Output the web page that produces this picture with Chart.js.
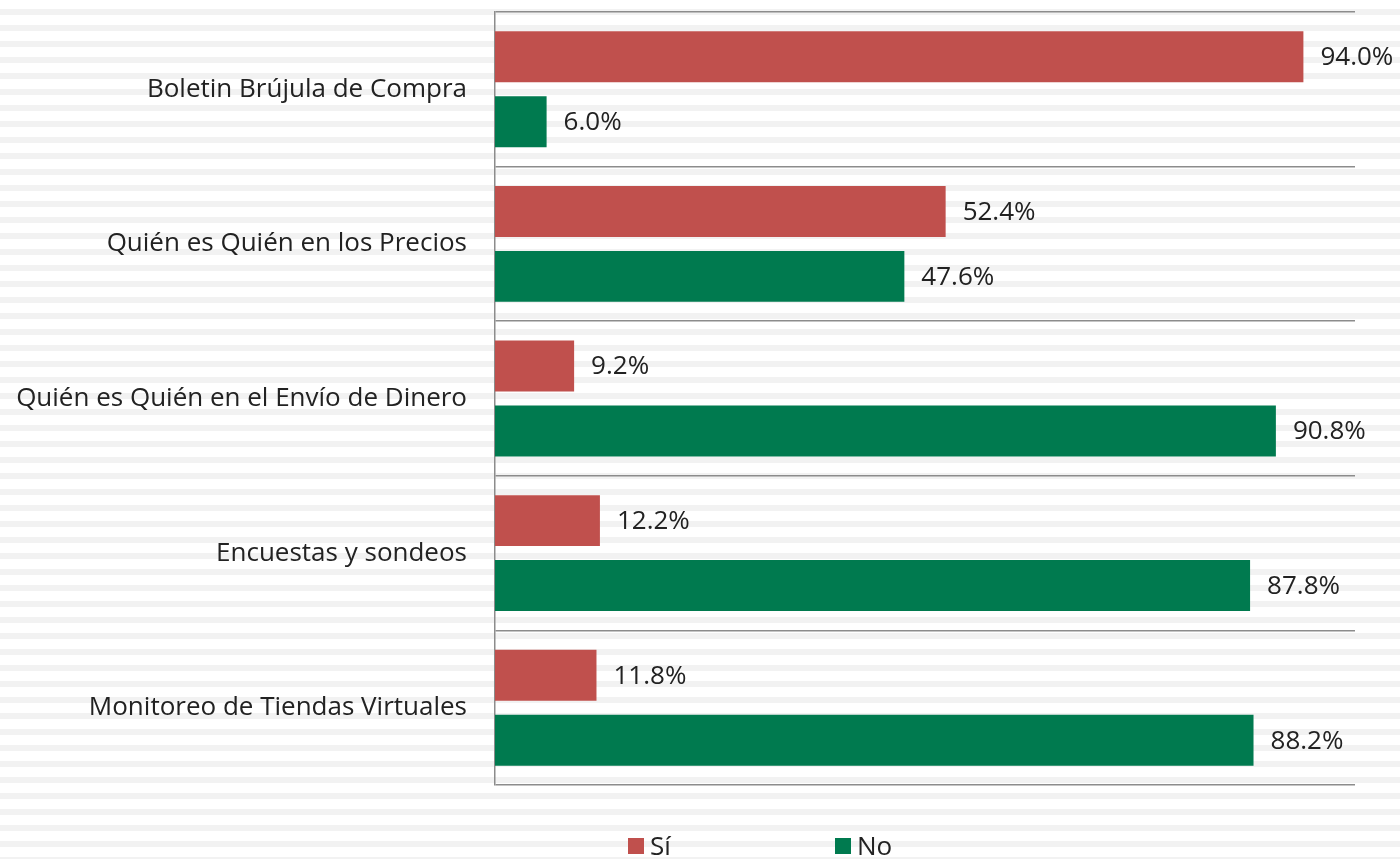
<!DOCTYPE html>
<html>
<head>
<meta charset="utf-8">
<script src="https://cdn.jsdelivr.net/npm/chart.js@4"></script>
<style>
  html, body { margin: 0; padding: 0; background: #fff; }
  #wrap { width: 1400px; height: 859px; }
</style>
</head>
<body>
<div id="wrap"><canvas id="chart" width="1400" height="859"></canvas></div>
<script>
const categories = [
  'Boletin Brújula de Compra',
  'Quién es Quién en los Precios',
  'Quién es Quién en el Envío de Dinero',
  'Encuestas y sondeos',
  'Monitoreo de Tiendas Virtuales'
];
const siValues = [94.0, 52.4, 9.2, 12.2, 11.8];
const noValues = [6.0, 47.6, 90.8, 87.8, 88.2];
const seriesNames = ['Sí', 'No'];

const FONT = '"Open Sans", Lato, sans-serif';
const FSIZE = 26;

// striped background like the original slide
const stripes = {
  id: 'stripes',
  beforeDraw(chart) {
    const ctx = chart.ctx;
    ctx.save();
    ctx.fillStyle = '#ffffff';
    ctx.fillRect(0, 0, chart.width, chart.height);
    ctx.fillStyle = '#f2f2f2';
    for (let y = 9; y < chart.height; y += 16) {
      ctx.fillRect(0, y, chart.width, 6);
    }
    ctx.restore();
  }
};

// value labels at the end of each bar
const barLabels = {
  id: 'barLabels',
  afterDatasetsDraw(chart) {
    const ctx = chart.ctx;
    ctx.save();
    ctx.font = FSIZE + 'px ' + FONT;
    ctx.fillStyle = '#222';
    ctx.textBaseline = 'middle';
    ctx.textAlign = 'left';
    chart.data.datasets.forEach((ds, i) => {
      chart.getDatasetMeta(i).data.forEach((bar, j) => {
        ctx.fillText(ds.data[j].toFixed(1) + '%', bar.x + 17, bar.y + 1);
      });
    });
    ctx.restore();
  }
};

// legend drawn below the plot
const bottomLegend = {
  id: 'bottomLegend',
  afterDraw(chart) {
    const ctx = chart.ctx;
    const xs = [628, 835];
    ctx.save();
    ctx.font = FSIZE + 'px ' + FONT;
    ctx.textBaseline = 'middle';
    chart.data.datasets.forEach((ds, i) => {
      ctx.fillStyle = ds.backgroundColor;
      ctx.fillRect(xs[i], 838, 16, 16);
      ctx.fillStyle = '#222';
      ctx.fillText(ds.label, xs[i] + 22, 848);
    });
    ctx.restore();
  }
};

new Chart(document.getElementById('chart').getContext('2d'), {
  type: 'bar',
  data: {
    labels: categories,
    datasets: [
      { label: seriesNames[0], data: siValues, backgroundColor: '#c0504d' },
      { label: seriesNames[1], data: noValues, backgroundColor: '#007a4f' }
    ]
  },
  options: {
    indexAxis: 'y',
    responsive: false,
    animation: false,
    categoryPercentage: 0.84,
    barPercentage: 0.785,
    layout: { padding: { top: 12, right: 45, bottom: 74, left: 0 } },
    plugins: {
      legend: { display: false },
      tooltip: { enabled: false }
    },
    scales: {
      x: { display: false, min: 0, max: 100 },
      y: {
        grid: { color: '#8c8c8c', lineWidth: 1.5, offset: true, drawTicks: false },
        border: { color: '#8c8c8c', width: 1.5 },
        ticks: { font: { family: FONT, size: FSIZE }, color: '#222', padding: 28 },
        afterFit(scale) {
          scale.width = 495;
          scale.paddingTop = 0;
          scale.paddingBottom = 0;
        }
      }
    }
  },
  plugins: [stripes, barLabels, bottomLegend]
});
</script>
</body>
</html>
